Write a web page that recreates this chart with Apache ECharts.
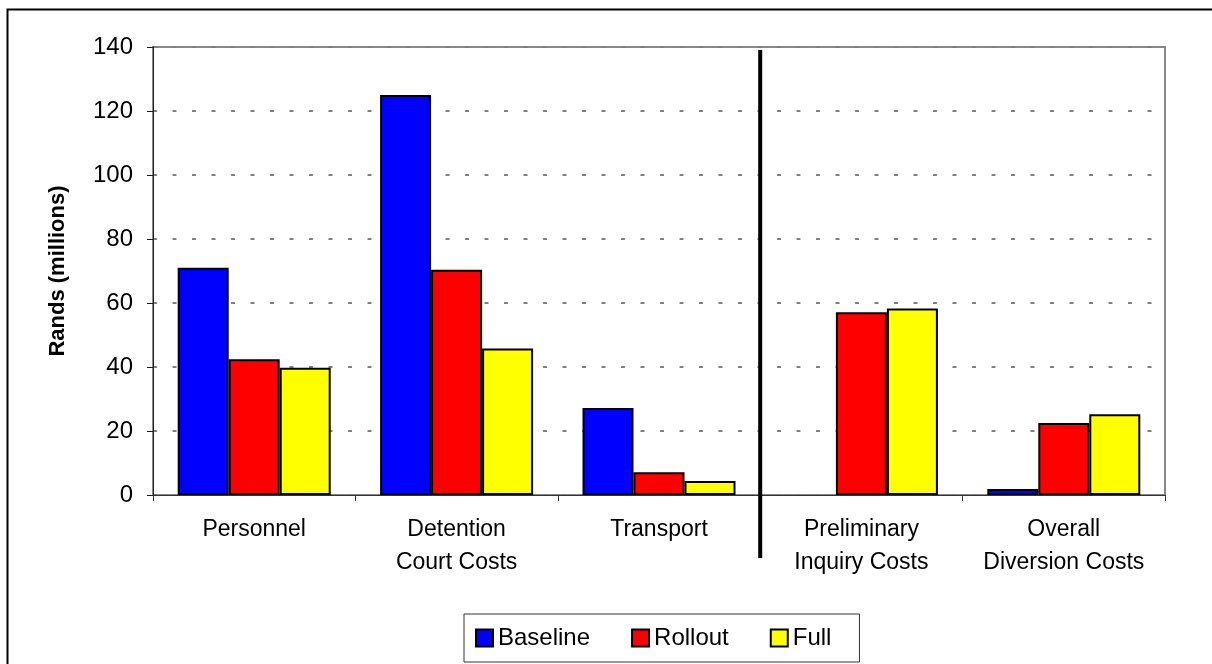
<!DOCTYPE html>
<html>
<head>
<meta charset="utf-8">
<script src="https://cdn.jsdelivr.net/npm/echarts@6/dist/echarts.min.js"></script>
<style>
  html, body { margin: 0; padding: 0; background: #fff; }
  #chart { width: 1212px; height: 664px; }
</style>
</head>
<body>
<div id="chart"></div>
<script>
// categories and values (Rands, millions)
var categories = ['Personnel', 'Detention\nCourt Costs', 'Transport', 'Preliminary\nInquiry Costs', 'Overall\nDiversion Costs']
var baseline = [71.0, 125.0, 27.2, null, 1.9]
var rollout = [42.4, 70.4, 7.1, 57.1, 22.5]
var full = [39.8, 45.8, 4.4, 58.3, 25.2]
var seriesNames = ['Baseline', 'Rollout', 'Full']
var yTicks = [0, 20, 40, 60, 80, 100, 120, 140]

var font = 'Liberation Sans, Arial, sans-serif'
var chart = echarts.init(document.getElementById('chart'))

function bar(name, data, color) {
	return {
		name: name,
		type: 'bar',
		data: data,
		barWidth: 51,
		barGap: '0%',
		itemStyle: {
			color: color,
			borderColor: '#000',
			borderWidth: 2
		}
	}
}

chart.setOption({
	animation: false,
	backgroundColor: '#fff',
	grid: {
		left: 153,
		right: 47,
		top: 47,
		bottom: 169,
		show: true,
		borderColor: '#888',
		borderWidth: 2
	},
	legend: {
		data: seriesNames,
		icon: 'rect',
		left: 464,
		top: 614,
		itemWidth: 17,
		itemHeight: 17,
		itemGap: 41,
		padding: [12, 28, 12, 11],
		borderColor: '#333',
		borderWidth: 1,
		textStyle: { fontFamily: font, fontSize: 24, color: '#000' }
	},
	xAxis: {
		type: 'category',
		data: categories,
		axisLine: { lineStyle: { color: '#333', width: 1 } },
		axisTick: { show: true, length: 6, lineStyle: { color: '#333' } },
		axisLabel: {
			fontFamily: font,
			fontSize: 23,
			color: '#000',
			margin: 18,
			lineHeight: 33,
			interval: 0
		}
	},
	yAxis: {
		type: 'value',
		min: yTicks[0],
		max: yTicks[yTicks.length - 1],
		interval: 20,
		name: 'Rands (millions)',
		nameLocation: 'middle',
		nameGap: 84,
		nameTextStyle: { fontFamily: font, fontSize: 22, fontWeight: 'bold', color: '#000' },
		axisLine: { show: true, lineStyle: { color: '#222', width: 1 } },
		axisTick: { show: true, length: 6, lineStyle: { color: '#222' } },
		axisLabel: { fontFamily: font, fontSize: 24, color: '#000', margin: 20 },
		splitLine: { show: true, lineStyle: { color: '#808080', width: 2, type: [4, 15.5] } }
	},
	series: [
		bar(seriesNames[0], baseline, '#0000ff'),
		bar(seriesNames[1], rollout, '#ff0000'),
		bar(seriesNames[2], full, '#ffff00')
	]
})

// separator between the first three and last two groups, plus the outer frame
var c2 = chart.convertToPixel({ xAxisIndex: 0 }, 2)
var c3 = chart.convertToPixel({ xAxisIndex: 0 }, 3)
var sepX = (c2 + c3) / 2
chart.setOption({
	graphic: [
		{
			type: 'rect',
			shape: { x: 7.5, y: 9.5, width: 1300, height: 700 },
			style: { fill: null, stroke: '#000', lineWidth: 2 },
			silent: true
		},
		{
			type: 'line',
			shape: { x1: sepX, y1: 50, x2: sepX, y2: 558 },
			style: { stroke: '#000', lineWidth: 4 },
			z: 100
		}
	]
})
</script>
</body>
</html>
